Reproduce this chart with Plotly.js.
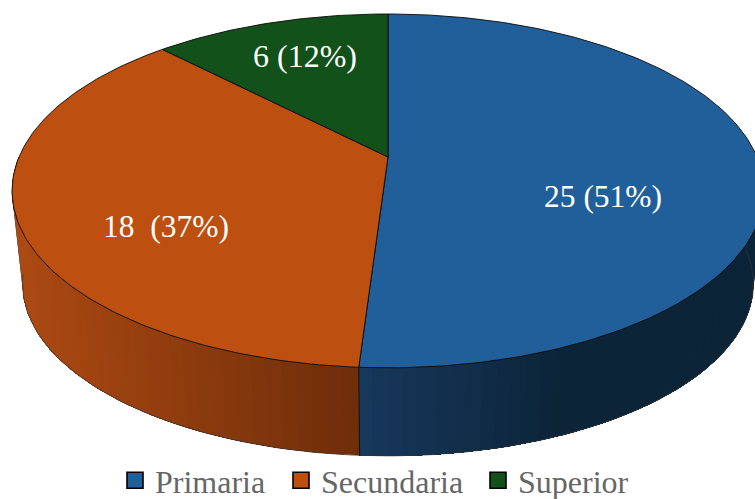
<!DOCTYPE html>
<html>
<head>
<meta charset="utf-8">
<script src="https://cdn.plot.ly/plotly-3.0.1.min.js"></script>
<style>html,body{margin:0;padding:0;background:#fff}#chart{width:755px;height:499px}</style>
</head>
<body>
<div id="chart"></div>
<script>
const categories = ["Primaria", "Secundaria", "Superior"];
const values = [25, 18, 6];
const dataLabels = ["25 (51%)", "18\u00a0\u00a0(37%)", "6 (12%)"];
const topColors = ["#215F9A", "#BD5011", "#125119"];
const sideStart = [[23, 56, 92], [173, 74, 18], [18, 81, 25]];
const sideEnd = [[12, 36, 56], [110, 45, 10], [18, 81, 25]];

// perspective pie geometry
const W = 755, H = 499;
const cx = 388, topApexY = 157, bx = 369, ay = 170.4, k = 0.1916;
const baseScale = 0.972, baseApexY = 251;
function project(thetaDeg, scale, apexY) {
  const t = thetaDeg * Math.PI / 180, X = Math.sin(t), Y = Math.cos(t), w = 1 + k * Y;
  return [cx + scale * bx * X / w, apexY - scale * ay * Y / w];
}
const total = values.reduce((a, b) => a + b, 0);
const bounds = [0];
values.forEach(v => bounds.push(bounds[bounds.length - 1] + v / total * 360));

function lerpColor(a, b, t) {
  t = Math.max(0, Math.min(1, t));
  return "rgb(" + a.map((c, i) => Math.round(c + (b[i] - c) * t)).join(",") + ")";
}
const traces = [];
const base = {type: "scatter", mode: "lines", hoverinfo: "skip", showlegend: false};

// side wall: each band runs to the far end of the slice and the next band paints over it
[0, 1].forEach(i => {
  const from = Math.max(bounds[i], 90), to = Math.min(bounds[i + 1], 270);
  const step = 2;
  for (let a = from; a < to - 1e-6; a += step) {
    const xs = [], ys = [], backX = [], backY = [];
    for (let b = a; ; b = Math.min(b + step, to)) {
      const p = project(b, 1, topApexY), q = project(b, baseScale, baseApexY);
      xs.push(p[0]); ys.push(p[1]); backX.unshift(q[0]); backY.unshift(q[1]);
      if (b >= to - 1e-6) break;
    }
    const allX = xs.concat(backX), allY = ys.concat(backY);
    allX.push(xs[0]); allY.push(ys[0]);
    const xm = project(a + step / 2, 1, topApexY)[0];
    const t = i === 0 ? (360 - xm) / -200 : (xm - 12) / 348;
    traces.push(Object.assign({}, base, {
      x: allX, y: allY, fill: "toself", fillcolor: lerpColor(sideStart[i], sideEnd[i], t),
      line: {width: 0}
    }));
  }
});

// base edge and the seam between the two visible walls
const edgeX = [], edgeY = [];
for (let a = 90; a <= 262; a += 1) {
  const q = project(a, baseScale, baseApexY);
  edgeX.push(q[0]); edgeY.push(q[1]);
}
traces.push(Object.assign({}, base, {x: edgeX, y: edgeY, line: {color: "#333", width: 0.7}}));
const seamTop = project(bounds[1], 1, topApexY), seamBase = project(bounds[1], baseScale, baseApexY);
traces.push(Object.assign({}, base, {
  x: [seamTop[0], seamBase[0]], y: [seamTop[1], seamBase[1]], line: {color: "#111", width: 0.9}
}));
const leftTop = project(259, 1, topApexY), leftBase = project(259, baseScale, baseApexY);
traces.push(Object.assign({}, base, {
  x: [leftTop[0], leftBase[0]], y: [leftTop[1], leftBase[1]], line: {color: "#555", width: 0.6}
}));

// top face slices
values.forEach((v, i) => {
  const xs = [cx], ys = [topApexY];
  const n = Math.ceil(bounds[i + 1] - bounds[i]);
  for (let j = 0; j <= n; j++) {
    const p = project(bounds[i] + (bounds[i + 1] - bounds[i]) * j / n, 1, topApexY);
    xs.push(p[0]); ys.push(p[1]);
  }
  xs.push(cx); ys.push(topApexY);
  traces.push(Object.assign({}, base, {
    x: xs, y: ys, fill: "toself", fillcolor: topColors[i], line: {color: "#0a0a0a", width: 0.9}
  }));
});

// legend entries, one legend each so they can be spaced like the reference
const legendNames = ["legend", "legend2", "legend3"];
categories.forEach((c, i) => {
  traces.push({
    type: "scatter", mode: "markers", name: c, x: [null], y: [null], hoverinfo: "skip",
    legend: legendNames[i],
    marker: {symbol: "square", size: 16, color: topColors[i], line: {color: "#000", width: 1.6}}
  });
});

const layout = {
  width: W, height: H,
  margin: {l: 0, r: 0, t: 0, b: 0, autoexpand: false},
  paper_bgcolor: "#fff", plot_bgcolor: "#fff",
  hovermode: false,
  xaxis: {range: [0, W], visible: false, fixedrange: true},
  yaxis: {range: [H, 0], visible: false, fixedrange: true},
  showlegend: true,
  annotations: [[603, 196], [166, 226], [305, 56]].map((p, i) => ({
    x: p[0], y: p[1], xref: "x", yref: "y", showarrow: false, text: dataLabels[i],
    xanchor: "center", yanchor: "middle",
    font: {family: "'Liberation Serif', serif", size: i === 2 ? 32 : 31.5, color: "#fff"}
  }))
};
[115, 281, 478].forEach((left, i) => {
  layout[legendNames[i]] = {
    orientation: "h", x: left / W, xanchor: "left", y: -0.018, yanchor: "bottom",
    bgcolor: "rgba(0,0,0,0)", itemclick: false, itemdoubleclick: false,
    font: {family: "'Liberation Serif', serif", size: 32, color: "#666"}
  };
});
Plotly.newPlot("chart", traces, layout, {displayModeBar: false, staticPlot: true});
</script>
</body>
</html>
